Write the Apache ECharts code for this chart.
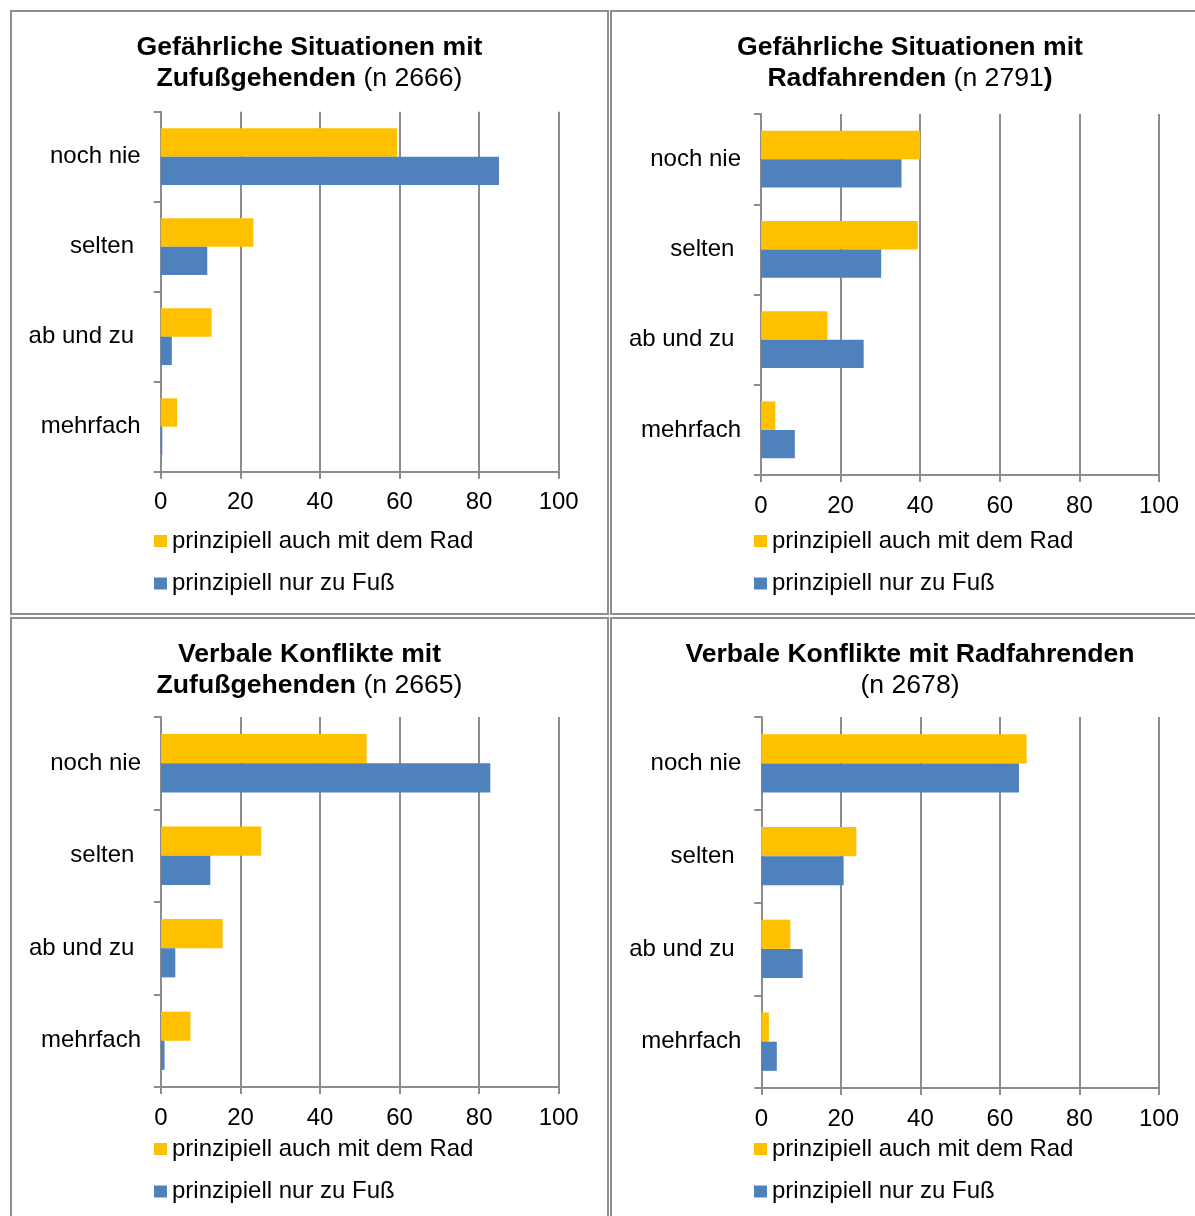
<!DOCTYPE html>
<html>
<head>
<meta charset="utf-8">
<title>Konflikte im Fuß- und Radverkehr</title>
<script src="https://cdn.jsdelivr.net/npm/echarts@6/dist/echarts.min.js"></script>
<style>
  html, body { margin: 0; padding: 0; width: 1195px; height: 1216px; overflow: hidden; background: #ffffff; }
  .chart { position: absolute; }
  .frame { position: absolute; box-sizing: border-box; border: 2px solid #8e8e8e; pointer-events: none; }
</style>
</head>
<body>
<div id="c0" class="chart"></div>
<div id="c1" class="chart"></div>
<div id="c2" class="chart"></div>
<div id="c3" class="chart"></div>
<div id="f0" class="frame"></div>
<div id="f1" class="frame"></div>
<div id="f2" class="frame"></div>
<div id="f3" class="frame"></div>
<script>
// Antwortkategorien (von oben nach unten)
const categories = ['noch nie', 'selten ', 'ab und zu ', 'mehrfach'];
// Gruppen der Befragten
const seriesNames = ['prinzipiell auch mit dem Rad', 'prinzipiell nur zu Fuß'];
// Skala der Prozentachse
const valueTicks = [0, 20, 40, 60, 80, 100];

// Gefährliche Situationen mit Zufußgehenden (n 2666), Anteile in %
const gefFussRad = [59.4, 23.3, 12.8, 4.1];
const gefFussFuss = [85.0, 11.7, 2.8, 0.4];
// Gefährliche Situationen mit Radfahrenden (n 2791)
const gefRadRad = [40.0, 39.4, 16.7, 3.6];
const gefRadFuss = [35.3, 30.2, 25.8, 8.5];
// Verbale Konflikte mit Zufußgehenden (n 2665)
const verbFussRad = [51.7, 25.2, 15.5, 7.4];
const verbFussFuss = [82.8, 12.4, 3.6, 0.9];
// Verbale Konflikte mit Radfahrenden (n 2678)
const verbRadRad = [66.7, 23.9, 7.3, 1.9];
const verbRadFuss = [64.8, 20.7, 10.4, 3.9];

// Überschriften (fett / normal als Rich-Text)
const titles = [
  '{b|Gefährliche Situationen mit}\n{b|Zufußgehenden}{n| (n 2666)}',
  '{b|Gefährliche Situationen mit}\n{b|Radfahrenden}{n| (n 2791}{b|)}',
  '{b|Verbale Konflikte mit}\n{b|Zufußgehenden}{n| (n 2665)}',
  '{b|Verbale Konflikte mit Radfahrenden}\n{n|(n 2678)}'
];

const FONT = "'Liberation Sans', Arial, Helvetica, sans-serif";
const COL_RAD = '#FFC000';
const COL_FUSS = '#4F81BD';
const GRID_COL = '#8c8c8c';

// Rahmen und Zeichenflächen der vier Teildiagramme (Seitenkoordinaten)
const panels = [
  { box: [10, 10, 599, 605],  grid: [150.7, 101.7, 398, 360], legendTop: 519, rad: gefFussRad,  fuss: gefFussFuss },
  { box: [610, 10, 600, 605], grid: [151, 104, 398, 361],     legendTop: 519, rad: gefRadRad,   fuss: gefRadFuss },
  { box: [10, 617, 599, 610], grid: [151, 100, 397.7, 370],   legendTop: 520, rad: verbFussRad, fuss: verbFussFuss },
  { box: [610, 617, 600, 610], grid: [151.3, 100, 397.7, 371], legendTop: 520, rad: verbRadRad, fuss: verbRadFuss }
];

panels.forEach(function (p, i) {
  const el = document.getElementById('c' + i);
  const fr = document.getElementById('f' + i);
  [el, fr].forEach(function (d) {
    d.style.left = p.box[0] + 'px';
    d.style.top = p.box[1] + 'px';
    d.style.width = p.box[2] + 'px';
    d.style.height = p.box[3] + 'px';
  });

  const chart = echarts.init(el, null, { renderer: 'canvas' });
  chart.setOption({
    animation: false,
    backgroundColor: 'transparent',
    textStyle: { fontFamily: FONT },
    title: {
      left: 'center',
      top: 22,
      padding: 0,
      text: titles[i],
      textStyle: {
        rich: {
          b: { fontFamily: FONT, fontSize: 26.6, fontWeight: 'bold', color: '#000', lineHeight: 31 },
          n: { fontFamily: FONT, fontSize: 26.6, fontWeight: 'normal', color: '#000', lineHeight: 31 }
        }
      }
    },
    legend: {
      orient: 'vertical',
      left: 144,
      top: p.legendTop,
      padding: 0,
      itemWidth: 13,
      itemHeight: 12,
      itemGap: 18.5,
      itemTextGap: 5,
      icon: 'rect',
      textStyle: { fontFamily: FONT, fontSize: 24, color: '#000' },
      data: seriesNames
    },
    grid: {
      left: p.grid[0],
      top: p.grid[1],
      width: p.grid[2],
      height: p.grid[3],
      containLabel: false,
      outerBoundsMode: 'none'
    },
    xAxis: {
      type: 'value',
      min: valueTicks[0],
      max: valueTicks[valueTicks.length - 1],
      interval: valueTicks[1] - valueTicks[0],
      axisLine: { show: true, lineStyle: { color: GRID_COL, width: 2 } },
      axisTick: { show: true, length: 7, lineStyle: { color: GRID_COL, width: 2 } },
      axisLabel: { margin: 19, fontFamily: FONT, fontSize: 24, color: '#000' },
      splitLine: { show: true, lineStyle: { color: GRID_COL, width: 2 } }
    },
    yAxis: {
      type: 'category',
      inverse: true,
      data: categories,
      axisLine: { show: true, lineStyle: { color: GRID_COL, width: 2 } },
      axisTick: { show: true, length: 7, lineStyle: { color: GRID_COL, width: 2 } },
      axisLabel: { margin: 20, fontFamily: FONT, fontSize: 24, color: '#000' },
      splitLine: { show: false }
    },
    series: [
      {
        name: seriesNames[0],
        type: 'bar',
        data: p.rad,
        barGap: '0%',
        barCategoryGap: '37%',
        itemStyle: { color: COL_RAD }
      },
      {
        name: seriesNames[1],
        type: 'bar',
        data: p.fuss,
        barGap: '0%',
        barCategoryGap: '37%',
        itemStyle: { color: COL_FUSS }
      }
    ]
  });
});
</script>
</body>
</html>
